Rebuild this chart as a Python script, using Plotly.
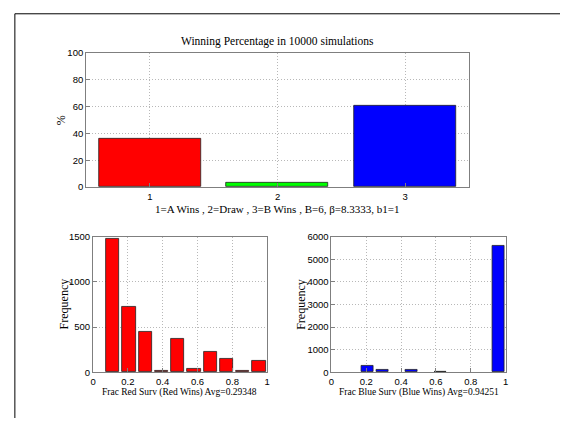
import plotly.graph_objects as go

# ---- data ----
outcome_cats = [1, 2, 3]
outcome_pct = [36.0, 3.5, 60.6]
outcome_colors = ["#ff0000", "#00ff00", "#0000ff"]

red_centers = [0.1133, 0.2067, 0.3000, 0.3933, 0.4867, 0.5800, 0.6733, 0.7667, 0.8600, 0.9533]
red_counts = [1482, 728, 453, 18, 370, 40, 228, 152, 11, 130]

blue_centers = [0.2083, 0.2917, 0.3750, 0.4583, 0.5417, 0.6250, 0.7083, 0.7917, 0.8750, 0.9583]
blue_counts = [275, 110, 0, 110, 0, 20, 0, 0, 0, 5580]

title_txt = "Winning Percentage in 10000 simulations"
top_xlabel = "1=A Wins , 2=Draw , 3=B Wins , B=6, \u03b2=8.3333, b1=1"
red_xlabel = "Frac Red Surv (Red Wins) Avg=0.29348"
blue_xlabel = "Frac Blue Surv (Blue Wins) Avg=0.94251"

W, H = 564, 423
def px(x): return x / W
def py(y): return 1 - y / H

def nonzero(xs, ys):
    pairs = [(a, b) for a, b in zip(xs, ys) if b > 0]
    return [p[0] for p in pairs], [p[1] for p in pairs]

fig = go.Figure()
fig.add_trace(go.Bar(x=outcome_cats, y=outcome_pct, width=0.8,
                     marker=dict(color=outcome_colors, line=dict(color="#222", width=0.8)),
                     xaxis="x", yaxis="y"))
rx, ry = nonzero(red_centers, red_counts)
fig.add_trace(go.Bar(x=rx, y=ry, width=0.0747,
                     marker=dict(color="#ff0000", line=dict(color="#222", width=0.8)),
                     xaxis="x2", yaxis="y2"))
bx, by = nonzero(blue_centers, blue_counts)
fig.add_trace(go.Bar(x=bx, y=by, width=0.0667,
                     marker=dict(color="#0000ff", line=dict(color="#222", width=0.8)),
                     xaxis="x3", yaxis="y3"))

tickfont = dict(family="Liberation Sans, Arial, sans-serif", size=9.5, color="black")
common = dict(showline=True, linecolor="#7f7f7f", linewidth=1, mirror=True,
              ticks="inside", ticklen=4, tickcolor="#7f7f7f",
              showgrid=True, gridcolor="#b8b8b8", griddash="1px,2px", gridwidth=1,
              zeroline=False, tickfont=tickfont, fixedrange=True)

fig.update_layout(
    width=W, height=H, margin=dict(l=0, r=0, t=0, b=0),
    paper_bgcolor="white", plot_bgcolor="white", showlegend=False, bargap=0,
    xaxis=dict(domain=[px(84), px(471)], range=[0.5, 3.5], tickvals=[1, 2, 3], anchor="y", **common),
    yaxis=dict(domain=[py(186), py(48)], range=[0, 100], dtick=20, anchor="x", **common),
    xaxis2=dict(domain=[px(91), px(267)], range=[0, 1], dtick=0.2, anchor="y2", **common),
    yaxis2=dict(domain=[py(376), py(237)], range=[0, 1500], dtick=500, anchor="x2", **common),
    xaxis3=dict(domain=[px(332), px(508)], range=[0, 1], dtick=0.2, anchor="y3", **common),
    yaxis3=dict(domain=[py(376), py(237)], range=[0, 6000], dtick=1000, anchor="x3", **common),
)

serif = "Liberation Serif, DejaVu Serif, serif"
def ann(x, y, text, size, angle=0):
    fig.add_annotation(x=px(x), y=py(y), xref="paper", yref="paper", text=text,
                       showarrow=False, textangle=angle, xanchor="center", yanchor="middle",
                       font=dict(family=serif, size=size, color="black"))

ann(277, 36, title_txt, 11.5)
ann(277, 208, top_xlabel, 11)
ann(59, 117, "%", 12, -90)
ann(178, 397, red_xlabel, 9.5)
ann(62, 306, "Frequency", 12, -90)
ann(420, 397, blue_xlabel, 9.5)
ann(301, 306, "Frequency", 12, -90)

# figure frame lines (top and left edges only)
fig.add_shape(type="line", xref="paper", yref="paper", x0=px(12), x1=px(563), y0=py(8), y1=py(8),
              line=dict(color="black", width=1))
fig.add_shape(type="line", xref="paper", yref="paper", x0=px(12), x1=px(12), y0=py(8), y1=py(423),
              line=dict(color="black", width=1))

fig.write_html("out.html", config={"displayModeBar": False})
